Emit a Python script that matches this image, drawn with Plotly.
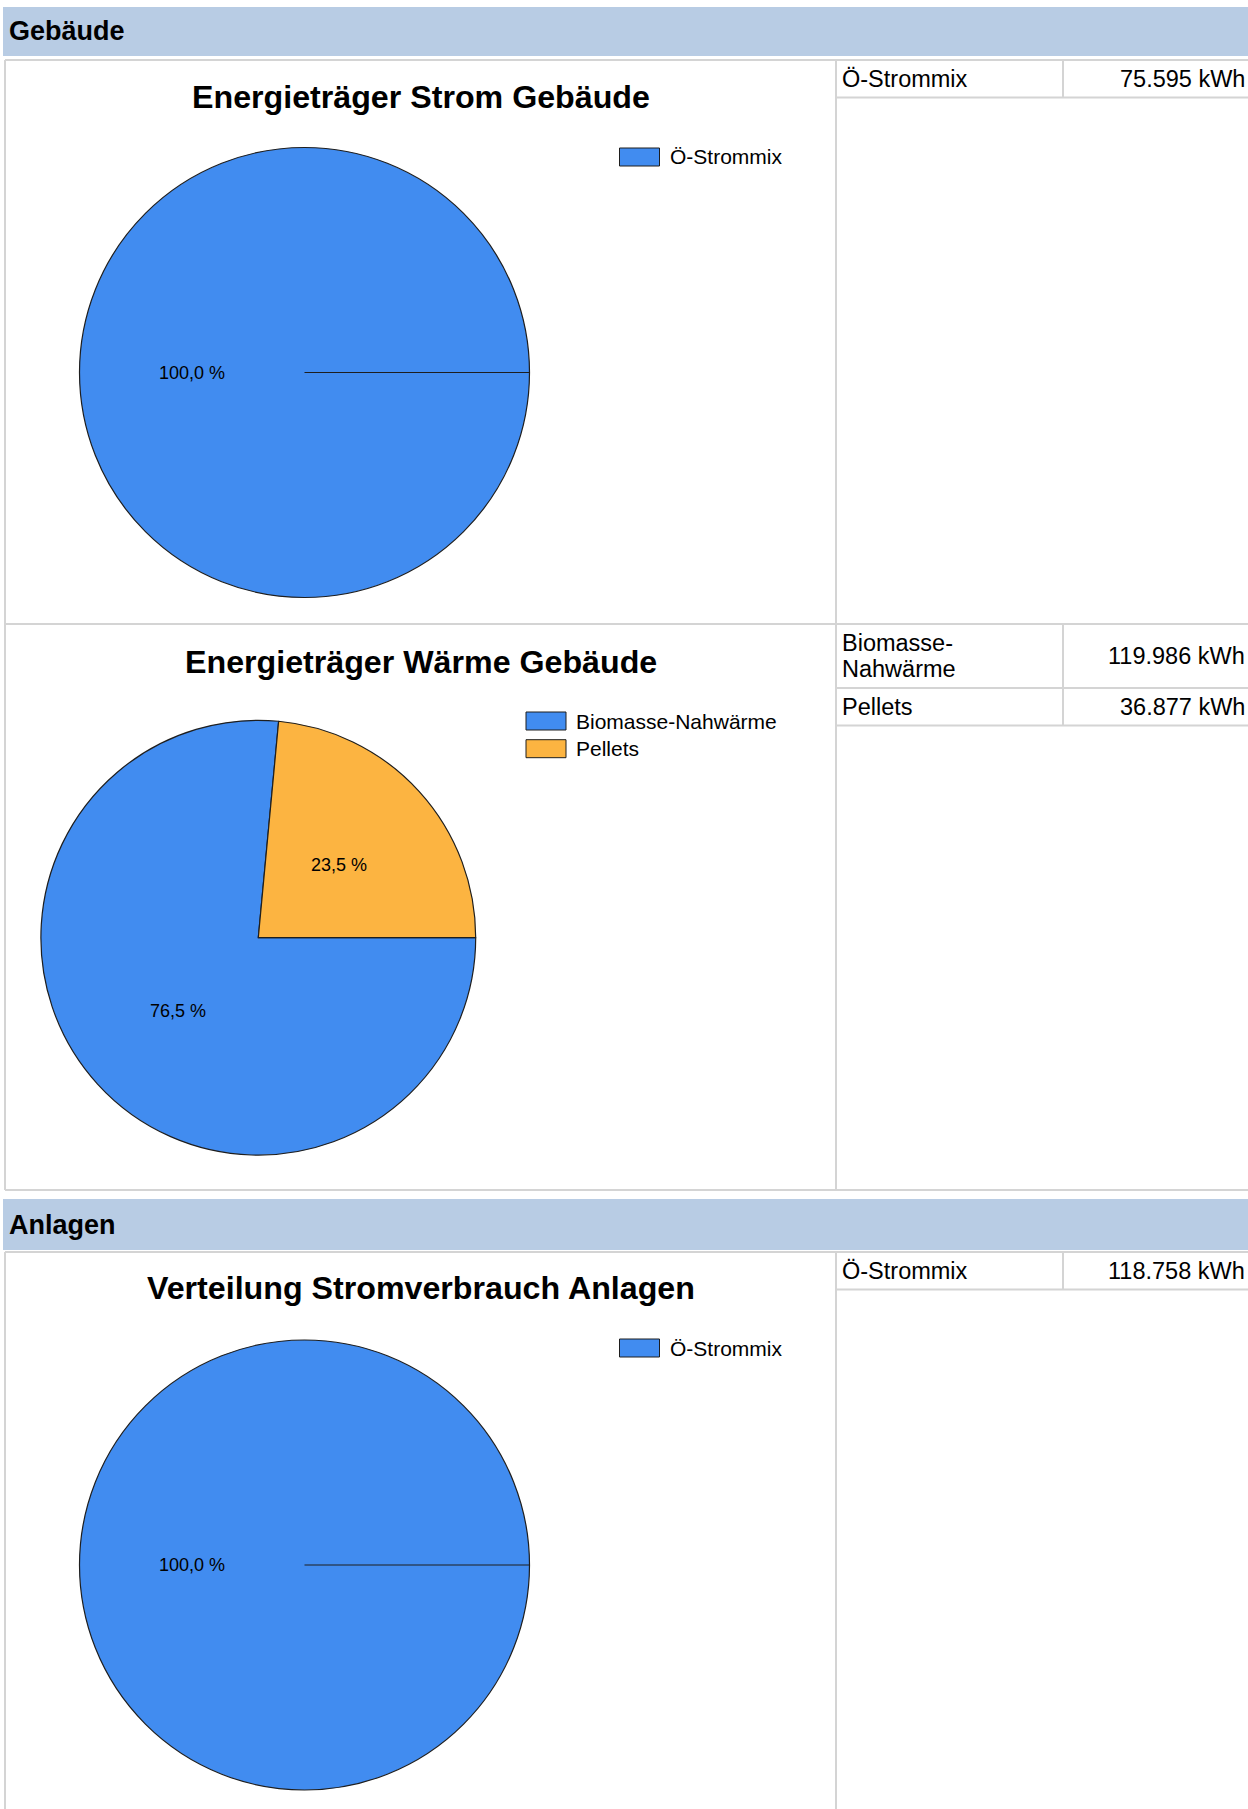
import math
import plotly.graph_objects as go

W, H = 1248, 1809

# ---------------- data ----------------
section_titles = ["Gebäude", "Anlagen"]
chart_titles = ["Energieträger Strom Gebäude",
                "Energieträger Wärme Gebäude",
                "Verteilung Stromverbrauch Anlagen"]
strom_labels = ["Ö-Strommix"]
strom_kwh = [75595]
waerme_labels = ["Biomasse-Nahwärme", "Pellets"]
waerme_kwh = [119986, 36877]
anlagen_labels = ["Ö-Strommix"]
anlagen_kwh = [118758]
slice_colors = ["#418CF0", "#FCB441"]

charts = [
    (chart_titles[0], strom_labels, strom_kwh),
    (chart_titles[1], waerme_labels, waerme_kwh),
    (chart_titles[2], anlagen_labels, anlagen_kwh),
]

# ---------------- layout constants (pixels) ----------------
FONT = "Liberation Sans, Arial, sans-serif"
GRID = "#D4D4D4"
PANEL_L, DIV_X, COL_X, RIGHT = 5, 836, 1063, 1248
headers = [(7, 56), (1199, 1250)]
panels = [(60, 624), (624, 1190), (1252, 1812)]
pie_geom = [(304.5, 372.5, 225), (258.3, 937.7, 217.4), (304.5, 1565, 225)]
title_y = [97, 662, 1288]
legend_pos = [(619.5, 148), (526, 712), (619.5, 1339)]
SW_W, SW_H, LEG_STEP = 40, 18, 27.7
ROW1, ROW2, LINE_H = 37.5, 64, 26.5


def px(x):
    return x / W


def py(y):
    return 1 - y / H


def de_num(v):
    return f"{v:,}".replace(",", ".") + " kWh"


fig = go.Figure()
shapes, annos = [], []

# section header bars
for (y0, y1), name in zip(headers, section_titles):
    shapes.append(dict(type="rect", xref="paper", yref="paper", x0=px(3), x1=px(RIGHT),
                       y0=py(y1), y1=py(y0), fillcolor="#B8CCE4", line=dict(width=0), layer="below"))
    annos.append(dict(x=px(7), y=py((y0 + y1) / 2), xref="paper", yref="paper", text=f"<b>{name}</b>",
                      showarrow=False, xanchor="left", yanchor="middle",
                      font=dict(family=FONT, size=27, color="black")))

# panel borders
for (y0, y1) in panels:
    for (xa, xb, ya, yb) in [(PANEL_L, RIGHT, y0, y0), (PANEL_L, RIGHT, y1, y1),
                             (PANEL_L, PANEL_L, y0, y1), (DIV_X, DIV_X, y0, y1)]:
        shapes.append(dict(type="line", xref="paper", yref="paper", x0=px(xa), x1=px(xb),
                           y0=py(ya), y1=py(yb), line=dict(color=GRID, width=2)))

for i, (title, labels, vals) in enumerate(charts):
    cx, cy, r = pie_geom[i]
    colors = slice_colors[:len(labels)]
    fig.add_trace(go.Pie(
        labels=labels, values=vals, sort=False, direction="clockwise", rotation=90,
        textinfo="none", showlegend=False, hoverinfo="label+value+percent",
        marker=dict(colors=colors, line=dict(color="#1E1E1E", width=1.2)),
        domain=dict(x=[px(cx - r), px(cx + r)], y=[py(cy + r), py(cy - r)]),
    ))
    total = sum(vals)
    # radial start line for a single full slice
    if len(vals) == 1:
        shapes.append(dict(type="line", xref="paper", yref="paper", x0=px(cx), x1=px(cx + r),
                           y0=py(cy), y1=py(cy), line=dict(color="#1E1E1E", width=1.2)))
    # percent labels
    cum = 0
    for v in vals:
        frac = v / total
        mid = (cum + frac / 2) * 2 * math.pi
        cum += frac
        tx = cx + 0.5 * r * math.cos(mid)
        ty = cy + 0.5 * r * math.sin(mid)
        annos.append(dict(x=px(tx), y=py(ty), xref="paper", yref="paper",
                          text=f"{frac * 100:.1f}".replace(".", ",") + " %",
                          showarrow=False, xanchor="center", yanchor="middle",
                          font=dict(family=FONT, size=18, color="black")))
    # chart title
    annos.append(dict(x=px((PANEL_L + DIV_X) / 2), y=py(title_y[i]), xref="paper", yref="paper",
                      text=f"<b>{title}</b>", showarrow=False, xanchor="center", yanchor="middle",
                      font=dict(family=FONT, size=32.2, color="black")))
    # legend
    lx, ly = legend_pos[i]
    for k, (lab, col) in enumerate(zip(labels, colors)):
        yy = ly + k * LEG_STEP
        shapes.append(dict(type="rect", xref="paper", yref="paper", x0=px(lx), x1=px(lx + SW_W),
                           y0=py(yy + SW_H), y1=py(yy), fillcolor=col,
                           line=dict(color="#1E1E1E", width=1)))
        annos.append(dict(x=px(lx + 48), y=py(yy + SW_H / 2), xref="paper", yref="paper",
                          text=lab, showarrow=False, xanchor="left", yanchor="middle",
                          font=dict(family=FONT, size=21, color="black")))
    # value table
    ytop = panels[i][0]
    for lab, v in zip(labels, vals):
        lines = [lab.split("-", 1)[0] + "-", lab.split("-", 1)[1]] if len(lab) > 12 else [lab]
        rh = ROW2 if len(lines) > 1 else ROW1
        ybot = ytop + rh
        ymid = (ytop + ybot) / 2
        shapes.append(dict(type="line", xref="paper", yref="paper", x0=px(DIV_X), x1=px(RIGHT),
                           y0=py(ybot), y1=py(ybot), line=dict(color=GRID, width=2)))
        shapes.append(dict(type="line", xref="paper", yref="paper", x0=px(COL_X), x1=px(COL_X),
                           y0=py(ytop), y1=py(ybot), line=dict(color=GRID, width=2)))
        for j, ln in enumerate(lines):
            ly_ = ymid + (j - (len(lines) - 1) / 2) * LINE_H
            annos.append(dict(x=px(840), y=py(ly_), xref="paper", yref="paper",
                              text=ln, showarrow=False, xanchor="left", yanchor="middle",
                              font=dict(family=FONT, size=23.5, color="black")))
        annos.append(dict(x=px(1247), y=py(ymid), xref="paper", yref="paper",
                          text=de_num(v), showarrow=False, xanchor="right", yanchor="middle",
                          font=dict(family=FONT, size=23.5, color="black")))
        ytop = ybot

fig.update_layout(
    width=W, height=H, autosize=False,
    margin=dict(l=0, r=0, t=0, b=0, pad=0),
    paper_bgcolor="white", plot_bgcolor="white",
    shapes=shapes, annotations=annos,
    font=dict(family=FONT),
)

fig.write_html("out.html", config={"displayModeBar": False},
               post_script="document.body.style.margin='0';document.body.style.overflow='hidden';")
